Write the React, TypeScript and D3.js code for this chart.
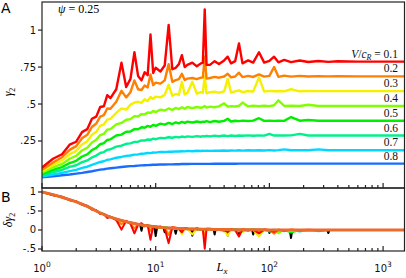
import { useEffect, useRef } from 'react';
import { select, scaleLog, scaleLinear, line } from 'd3';

// system size Lx (shared by every curve)
const LX = [
  1, 1.25, 1.5, 1.75, 2, 2.25, 2.5, 2.75, 3, 3.25, 3.5, 3.75, 4, 4.5, 5, 5.5, 6, 6.5, 7, 7.5,
  8, 8.5, 9, 9.5, 10, 11, 12, 13, 14, 15, 16, 17, 18, 19, 21, 23, 25, 26, 27, 28,
  30, 33, 36, 40, 43, 46, 50, 54, 58, 65, 72, 81, 90, 100, 110, 120, 135, 155, 185, 220,
  270, 330, 400, 600, 1000, 1600,
];

// gamma_2 for each V/c_R
const GAMMA_01 = [
  0.070, 0.130, 0.160, 0.225, 0.245, 0.310, 0.330, 0.400, 0.415, 0.480,
  0.485, 0.560, 0.540, 0.600, 0.780, 0.615, 0.670, 0.850, 0.690, 0.660,
  0.715, 0.695, 0.970, 0.710, 0.745, 0.720, 0.760, 1.035, 0.735, 0.745,
  0.770, 0.830, 0.750, 0.765, 0.780, 0.755, 0.775, 0.780, 1.140, 0.765,
  0.765, 0.790, 0.770, 0.795, 0.820, 0.775, 0.790, 0.910, 0.775, 0.795,
  0.780, 0.850, 0.780, 0.792, 0.820, 0.782, 0.798, 0.783, 0.794, 0.784,
  0.791, 0.785, 0.789, 0.787, 0.787, 0.787,
];
const GAMMA_02 = [
  0.055, 0.105, 0.140, 0.190, 0.215, 0.268, 0.292, 0.345, 0.368, 0.415,
  0.425, 0.470, 0.468, 0.515, 0.590, 0.545, 0.580, 0.660, 0.600, 0.595,
  0.625, 0.612, 0.700, 0.628, 0.645, 0.638, 0.660, 0.770, 0.650, 0.662,
  0.668, 0.705, 0.662, 0.672, 0.676, 0.668, 0.678, 0.680, 0.820, 0.672,
  0.676, 0.684, 0.678, 0.686, 0.705, 0.680, 0.686, 0.712, 0.682, 0.690,
  0.683, 0.700, 0.685, 0.690, 0.750, 0.684, 0.692, 0.685, 0.690, 0.686,
  0.689, 0.687, 0.688, 0.687, 0.687, 0.687,
];
const GAMMA_03 = [
  0.045, 0.088, 0.118, 0.160, 0.183, 0.226, 0.248, 0.292, 0.312, 0.352,
  0.362, 0.395, 0.400, 0.440, 0.470, 0.462, 0.496, 0.510, 0.515, 0.508,
  0.532, 0.520, 0.548, 0.534, 0.550, 0.545, 0.562, 0.630, 0.556, 0.568,
  0.562, 0.650, 0.565, 0.575, 0.650, 0.570, 0.580, 0.575, 0.690, 0.572,
  0.580, 0.584, 0.576, 0.585, 0.670, 0.578, 0.586, 0.592, 0.580, 0.588,
  0.584, 0.680, 0.584, 0.589, 0.586, 0.588, 0.586, 0.600, 0.586, 0.588,
  0.587, 0.587, 0.587, 0.587, 0.587, 0.587,
];
const GAMMA_04 = [
  0.035, 0.072, 0.095, 0.130, 0.150, 0.186, 0.204, 0.240, 0.258, 0.290,
  0.298, 0.327, 0.330, 0.362, 0.372, 0.394, 0.398, 0.418, 0.416, 0.432,
  0.430, 0.443, 0.440, 0.452, 0.446, 0.462, 0.456, 0.470, 0.460, 0.474,
  0.466, 0.478, 0.468, 0.480, 0.472, 0.480, 0.475, 0.478, 0.486, 0.476,
  0.482, 0.478, 0.484, 0.505, 0.482, 0.486, 0.483, 0.488, 0.510, 0.484,
  0.488, 0.485, 0.488, 0.486, 0.492, 0.525, 0.487, 0.488, 0.487, 0.495,
  0.487, 0.487, 0.487, 0.487, 0.487, 0.487,
];
const GAMMA_05 = [
  0.025, 0.054, 0.073, 0.101, 0.116, 0.145, 0.160, 0.188, 0.203, 0.228,
  0.236, 0.257, 0.261, 0.287, 0.293, 0.312, 0.314, 0.330, 0.329, 0.343,
  0.340, 0.352, 0.346, 0.359, 0.352, 0.367, 0.361, 0.372, 0.365, 0.376,
  0.369, 0.379, 0.372, 0.381, 0.375, 0.382, 0.377, 0.381, 0.379, 0.384,
  0.378, 0.385, 0.380, 0.386, 0.400, 0.382, 0.387, 0.384, 0.388, 0.385,
  0.388, 0.404, 0.386, 0.388, 0.386, 0.388, 0.386, 0.412, 0.387, 0.392,
  0.387, 0.387, 0.387, 0.387, 0.387, 0.387,
];
const GAMMA_06 = [
  0.018, 0.040, 0.054, 0.075, 0.086, 0.107, 0.118, 0.139, 0.151, 0.169,
  0.175, 0.190, 0.194, 0.212, 0.218, 0.231, 0.234, 0.244, 0.245, 0.254,
  0.253, 0.260, 0.258, 0.266, 0.262, 0.271, 0.269, 0.275, 0.272, 0.278,
  0.274, 0.280, 0.276, 0.281, 0.278, 0.283, 0.279, 0.283, 0.281, 0.285,
  0.281, 0.286, 0.282, 0.287, 0.283, 0.287, 0.284, 0.287, 0.285, 0.288,
  0.285, 0.288, 0.286, 0.298, 0.287, 0.288, 0.287, 0.288, 0.298, 0.287,
  0.288, 0.287, 0.287, 0.287, 0.287, 0.287,
];
const GAMMA_07 = [
  0.010, 0.023, 0.034, 0.046, 0.055, 0.068, 0.076, 0.089, 0.098, 0.108,
  0.113, 0.123, 0.126, 0.137, 0.142, 0.149, 0.152, 0.158, 0.159, 0.164,
  0.165, 0.169, 0.168, 0.172, 0.171, 0.176, 0.175, 0.178, 0.177, 0.180,
  0.179, 0.181, 0.180, 0.183, 0.181, 0.184, 0.182, 0.184, 0.183, 0.185,
  0.183, 0.185, 0.184, 0.186, 0.184, 0.186, 0.185, 0.187, 0.185, 0.187,
  0.186, 0.187, 0.186, 0.188, 0.186, 0.188, 0.193, 0.187, 0.188, 0.187,
  0.193, 0.187, 0.187, 0.187, 0.187, 0.187,
];
const GAMMA_08 = [
  0.005, 0.011, 0.018, 0.023, 0.029, 0.034, 0.040, 0.045, 0.051, 0.056,
  0.059, 0.063, 0.066, 0.070, 0.074, 0.077, 0.080, 0.081, 0.083, 0.085,
  0.086, 0.087, 0.088, 0.089, 0.089, 0.091, 0.091, 0.092, 0.092, 0.093,
  0.093, 0.094, 0.094, 0.094, 0.095, 0.095, 0.095, 0.095, 0.095, 0.095,
  0.095, 0.096, 0.096, 0.096, 0.096, 0.096, 0.096, 0.097, 0.097, 0.097,
  0.097, 0.097, 0.097, 0.097, 0.097, 0.097, 0.097, 0.097, 0.097, 0.097,
  0.097, 0.097, 0.097, 0.097, 0.097, 0.097,
];

const SPEEDS = ['0.1', '0.2', '0.3', '0.4', '0.5', '0.6', '0.7', '0.8'];
const COLORS = ['#ff0000', '#ff8000', '#f4f000', '#80ff00', '#00ee00', '#00f08c', '#00d8ff', '#1a6cff'];
const SERIES = [GAMMA_01, GAMMA_02, GAMMA_03, GAMMA_04, GAMMA_05, GAMMA_06, GAMMA_07, GAMMA_08];

// collapse curve drawn over panel B
const DELTA_FIT = [
  1.0, 0.93, 0.86, 0.80, 0.74, 0.68, 0.62, 0.56, 0.50, 0.45,
  0.41, 0.37, 0.34, 0.29, 0.25, 0.22, 0.19, 0.17, 0.15, 0.135,
  0.12, 0.11, 0.10, 0.09, 0.085, 0.07, 0.06, 0.055, 0.05, 0.045,
  0.04, 0.037, 0.034, 0.03, 0.027, 0.024, 0.022, 0.021, 0.02, 0.019,
  0.017, 0.015, 0.013, 0.011, 0.01, 0.009, 0.008, 0.007, 0.006, 0.005,
  0.004, 0.003, 0.003, 0.002, 0.002, 0.001, 0.001, 0, 0, 0,
  0, 0, 0, 0, 0, 0,
];

// black run in panel B (only its dips show)
const BLACK_LX = [
  5, 7.3, 7.5, 7.7, 9.7, 10, 10.3, 11.7, 12, 12.3, 14.6, 15, 15.4, 20.5, 21, 21.5,
  32.3, 33, 33.7, 42, 43, 44, 53, 54, 55, 70.5, 72, 73.5, 98, 100, 102,
  151, 155, 159, 322, 330, 338, 1600,
];
const BLACK_DELTA = [
  0.25, 0.14, -0.02, 0.13, 0.09, -0.16, 0.08, 0.06, -0.06, 0.06, 0.045, -0.1, 0.045,
  0.028, -0.15, 0.026, 0.015, -0.12, 0.015, 0.01, -0.15, 0.01, 0.007, -0.14, 0.007,
  0.004, -0.12, 0.004, 0.002, -0.08, 0.002, 0, -0.21, 0, 0, -0.08, 0, 0,
];

const A_TICKS = [1, 0.75, 0.5, 0.25];
const A_TICK_LABELS = ['1', '.75', '.5', '.25'];
const B_TICKS = [1, 0.5, 0, -0.5];
const B_TICK_LABELS = ['1', '.5', '0', '-.5'];
const DECADES = [1, 10, 100, 1000];
const DECADE_EXPONENTS = ['0', '1', '2', '3'];

const WIDTH = 406;
const HEIGHT = 278;
const LEFT = 42;
const RIGHT = 404.5;
const A_TOP = 2;
const A_BOTTOM = 188;
const B_BOTTOM = 251;
const SANS = "'DejaVu Sans', sans-serif";
const SERIF = "'Liberation Serif', serif";
const FIT_COLOR = '#ec6a2c';

const App = () => {
  const svgRef = useRef(null);

  useEffect(() => {
    const svg = select(svgRef.current);
    svg.selectAll('*').remove();

    const xScale = scaleLog().domain([1, 1543]).range([LEFT, RIGHT]);
    const yA = scaleLinear().domain([-0.068, 1.19]).range([A_BOTTOM, A_TOP]);
    const yB = scaleLinear().domain([-0.553, 1.105]).range([B_BOTTOM, A_BOTTOM]);

    const defs = svg.append('defs');
    defs.append('clipPath').attr('id', 'clip-a').append('rect')
      .attr('x', LEFT).attr('y', A_TOP).attr('width', RIGHT - LEFT).attr('height', A_BOTTOM - A_TOP);
    defs.append('clipPath').attr('id', 'clip-b').append('rect')
      .attr('x', LEFT).attr('y', A_BOTTOM).attr('width', RIGHT - LEFT).attr('height', B_BOTTOM - A_BOTTOM);

    const lineA = line().x((d) => xScale(d[0])).y((d) => yA(d[1]));
    const lineB = line().x((d) => xScale(d[0])).y((d) => yB(d[1]));

    // panel A curves, blue underneath, red on top
    const gA = svg.append('g').attr('clip-path', 'url(#clip-a)');
    for (let i = SERIES.length - 1; i >= 0; i--) {
      gA.append('path')
        .datum(LX.map((lx, j) => [lx, SERIES[i][j]]))
        .attr('d', lineA)
        .attr('fill', 'none')
        .attr('stroke', COLORS[i])
        .attr('stroke-width', 2.4)
        .attr('stroke-linejoin', 'round');
    }

    // panel B: normalised curves
    const gB = svg.append('g').attr('clip-path', 'url(#clip-b)');
    gB.append('path')
      .datum(BLACK_LX.map((lx, j) => [lx, BLACK_DELTA[j]]))
      .attr('d', lineB)
      .attr('fill', 'none')
      .attr('stroke', '#000')
      .attr('stroke-width', 2)
      .attr('stroke-linejoin', 'round');
    for (let i = SERIES.length - 1; i >= 0; i--) {
      const s = SERIES[i];
      const v0 = s[0];
      const vInf = s[s.length - 1];
      gB.append('path')
        .datum(LX.map((lx, j) => [lx, (vInf - s[j]) / (vInf - v0)]))
        .attr('d', lineB)
        .attr('fill', 'none')
        .attr('stroke', COLORS[i])
        .attr('stroke-width', 2)
        .attr('stroke-linejoin', 'round');
    }
    gB.append('path')
      .datum(LX.map((lx, j) => [lx, DELTA_FIT[j]]))
      .attr('d', lineB)
      .attr('fill', 'none')
      .attr('stroke', FIT_COLOR)
      .attr('stroke-width', 3);

    // frames
    const frame = svg.append('g').attr('stroke', '#222').attr('stroke-width', 1.2).attr('fill', 'none');
    frame.append('rect').attr('x', LEFT).attr('y', A_TOP).attr('width', RIGHT - LEFT).attr('height', A_BOTTOM - A_TOP);
    frame.append('rect').attr('x', LEFT).attr('y', A_BOTTOM).attr('width', RIGHT - LEFT).attr('height', B_BOTTOM - A_BOTTOM);

    // x ticks (inward) on both panels
    const xTicks = [];
    DECADES.forEach((d) => {
      for (let k = 1; k <= 9; k++) {
        const v = d * k;
        if (v <= 1543) xTicks.push({ v, major: k === 1 });
      }
    });
    [A_BOTTOM, B_BOTTOM].forEach((yPos) => {
      frame.selectAll(null)
        .data(xTicks)
        .join('line')
        .attr('x1', (t) => xScale(t.v))
        .attr('x2', (t) => xScale(t.v))
        .attr('y1', yPos)
        .attr('y2', (t) => yPos - (t.major ? 5 : 3));
    });

    // y ticks
    frame.selectAll(null).data(A_TICKS).join('line')
      .attr('x1', LEFT - 4).attr('x2', LEFT).attr('y1', (v) => yA(v)).attr('y2', (v) => yA(v));
    frame.selectAll(null).data(B_TICKS).join('line')
      .attr('x1', LEFT - 4).attr('x2', LEFT).attr('y1', (v) => yB(v)).attr('y2', (v) => yB(v));

    const labels = svg.append('g').attr('font-family', SANS).attr('font-size', 10).attr('fill', '#111');
    labels.selectAll(null).data(A_TICKS).join('text')
      .attr('x', LEFT - 6).attr('y', (v) => yA(v) + 3.5).attr('text-anchor', 'end')
      .text((v, i) => A_TICK_LABELS[i]);
    labels.selectAll(null).data(B_TICKS).join('text')
      .attr('x', LEFT - 6).attr('y', (v) => yB(v) + 3.5).attr('text-anchor', 'end')
      .text((v, i) => B_TICK_LABELS[i]);

    DECADES.forEach((d, i) => {
      const t = labels.append('text')
        .attr('x', xScale(d)).attr('y', 272).attr('text-anchor', 'middle');
      t.append('tspan').text('10');
      t.append('tspan').attr('dy', -5).attr('font-size', 7.5).text(DECADE_EXPONENTS[i]);
    });

    // panel letters
    svg.append('text').attr('x', 1).attr('y', 13).attr('font-family', SANS).attr('font-size', 14).text('A');
    svg.append('text').attr('x', 1).attr('y', 202).attr('font-family', SANS).attr('font-size', 14).text('B');

    // psi annotation
    const psi = svg.append('text').attr('x', 58).attr('y', 13).attr('font-family', SERIF).attr('font-size', 12);
    psi.append('tspan').attr('font-style', 'italic').text('ψ');
    psi.append('tspan').text(' = 0.25');

    // curve labels
    const legend = svg.append('g').attr('font-family', SERIF).attr('font-size', 11.5).attr('fill', '#111');
    SERIES.forEach((s, i) => {
      const t = legend.append('text')
        .attr('x', 398)
        .attr('y', yA(s[s.length - 1]) - 4)
        .attr('text-anchor', 'end');
      if (i === 0) {
        t.append('tspan').attr('font-style', 'italic').text('V');
        t.append('tspan').text('/');
        t.append('tspan').attr('font-style', 'italic').text('c');
        t.append('tspan').attr('font-style', 'italic').attr('font-size', 8).attr('dy', 2.5).text('R');
        t.append('tspan').attr('dy', -2.5).text(' = ' + SPEEDS[i]);
      } else {
        t.text(SPEEDS[i]);
      }
    });

    // axis titles
    const yTitleA = svg.append('text')
      .attr('transform', `translate(12, 92) rotate(-90)`)
      .attr('text-anchor', 'middle').attr('font-family', SERIF).attr('font-size', 12);
    yTitleA.append('tspan').attr('font-style', 'italic').text('γ');
    yTitleA.append('tspan').attr('font-size', 8).attr('dy', 2.5).text('2');

    const yTitleB = svg.append('text')
      .attr('transform', `translate(12, 220) rotate(-90)`)
      .attr('text-anchor', 'middle').attr('font-family', SERIF).attr('font-size', 12);
    yTitleB.append('tspan').attr('font-style', 'italic').text('δγ');
    yTitleB.append('tspan').attr('font-size', 8).attr('dy', 2.5).text('2');

    const xTitle = svg.append('text')
      .attr('x', 222).attr('y', 271)
      .attr('text-anchor', 'middle').attr('font-family', SERIF).attr('font-size', 12.5);
    xTitle.append('tspan').attr('font-style', 'italic').text('L');
    xTitle.append('tspan').attr('font-style', 'italic').attr('font-size', 9).attr('dy', 2.5).text('x');
  }, []);

  return (
    <svg
      ref={svgRef}
      width={WIDTH}
      height={HEIGHT}
      style={{ position: 'absolute', left: 0, top: 0, background: '#fff' }}
    />
  );
};

export default App;
